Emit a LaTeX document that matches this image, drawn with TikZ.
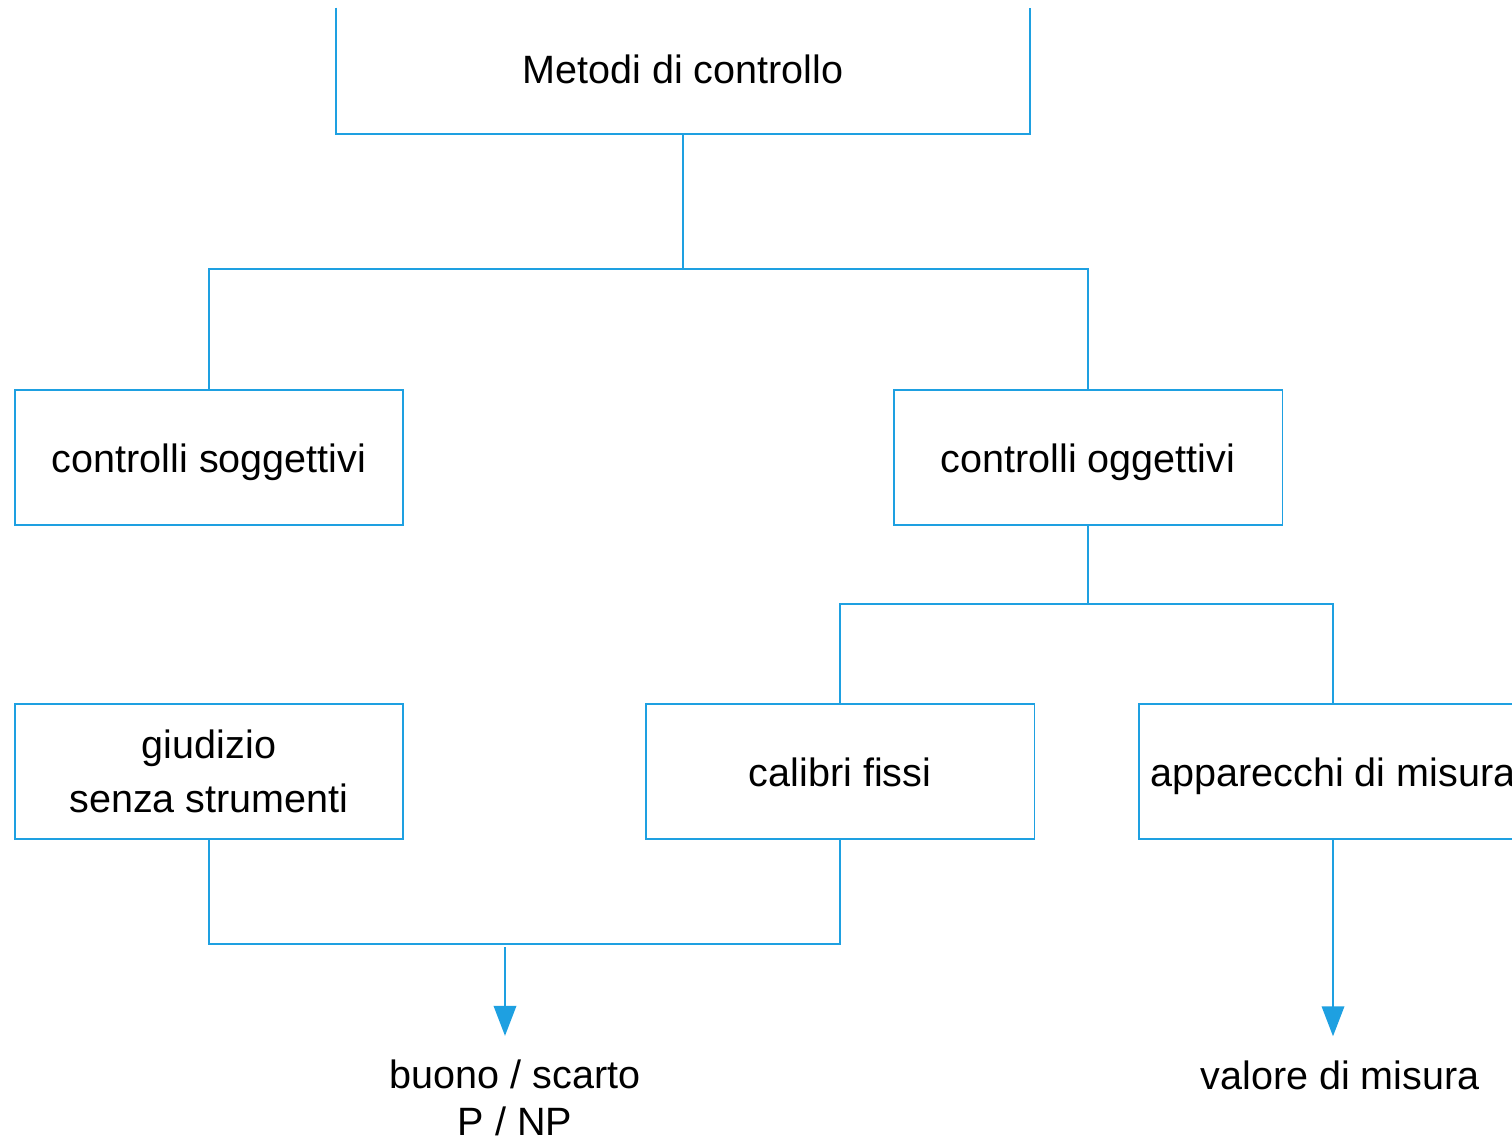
\documentclass[tikz,border=0pt]{standalone}
\usepackage{fontspec}
\setmainfont{Liberation Sans}
\usetikzlibrary{positioning,arrows.meta}
\definecolor{linkblue}{RGB}{30,160,225}
% text set on a baseline below the node centre
\newcommand{\lowtext}[2][8.5pt]{\raisebox{-#1}[0pt][0pt]{#2}}

\begin{document}
\begin{tikzpicture}[
        x=0.02cm, y=-0.02cm,
        font=\fontsize{22.5}{30.5}\selectfont,
        >={Triangle[width=0.45cm,length=0.6cm]},
        box/.style={draw=linkblue, line width=1.1pt, minimum width=7.78cm, minimum height=2.7cm, inner sep=0pt},
        link/.style={draw=linkblue, line width=1.1pt},
        arrow/.style={->, link, shorten >=0.36cm},
        result/.style={align=center, font=\fontsize{22.5}{26.7}\selectfont},
    ]
    \clip (0,0) rectangle (1512,1139);

    % top level
    \node[minimum width=13.86cm, minimum height=2.56cm, inner sep=0pt] (top) at (683,70) {\lowtext[7.5pt]{Metodi di controllo}};
    \draw[link] ([yshift=-0.04cm]top.north west) -- (top.south west) -- (top.south east) -- ([yshift=-0.04cm]top.north east);

    % second level
    \node[box] (subj) at (209,457.5) {\lowtext{controlli soggettivi}};
    \node[box] (obj) at (1088,457.5) {\lowtext{controlli oggettivi}};

    % third level
    \node[box, align=center] (judge) at (209,771.5) {giudizio\\senza strumenti};
    \node[box] (fixed) at (840,771.5) {\lowtext{calibri fissi}};
    \node[box] (instr) at (1333,771.5) {\lowtext{apparecchi di misura}};

    % results
    \node[result] (verdict) at (515,1098) {buono / scarto\\P / NP};
    \node[result] (reading) at (1340,1075) {valore di misura};

    % connections
    \draw[link] (top.south) -- ++(0,135) coordinate (split1);
    \draw[link] (subj.north) |- (split1) -| (obj.north);
    \draw[link] (obj.south) -- ++(0,78) coordinate (split2);
    \draw[link] (fixed.north) |- (split2) -| (instr.north);
    \draw[link] (judge.south) -- ++(0,104) coordinate (joinL) -| (fixed.south);
    \coordinate (merge) at (505,947);
    \draw[arrow] (merge) -- (merge |- verdict.north);
    \draw[arrow] (instr.south) -- (instr.south |- reading.north);

\end{tikzpicture}
\end{document}
